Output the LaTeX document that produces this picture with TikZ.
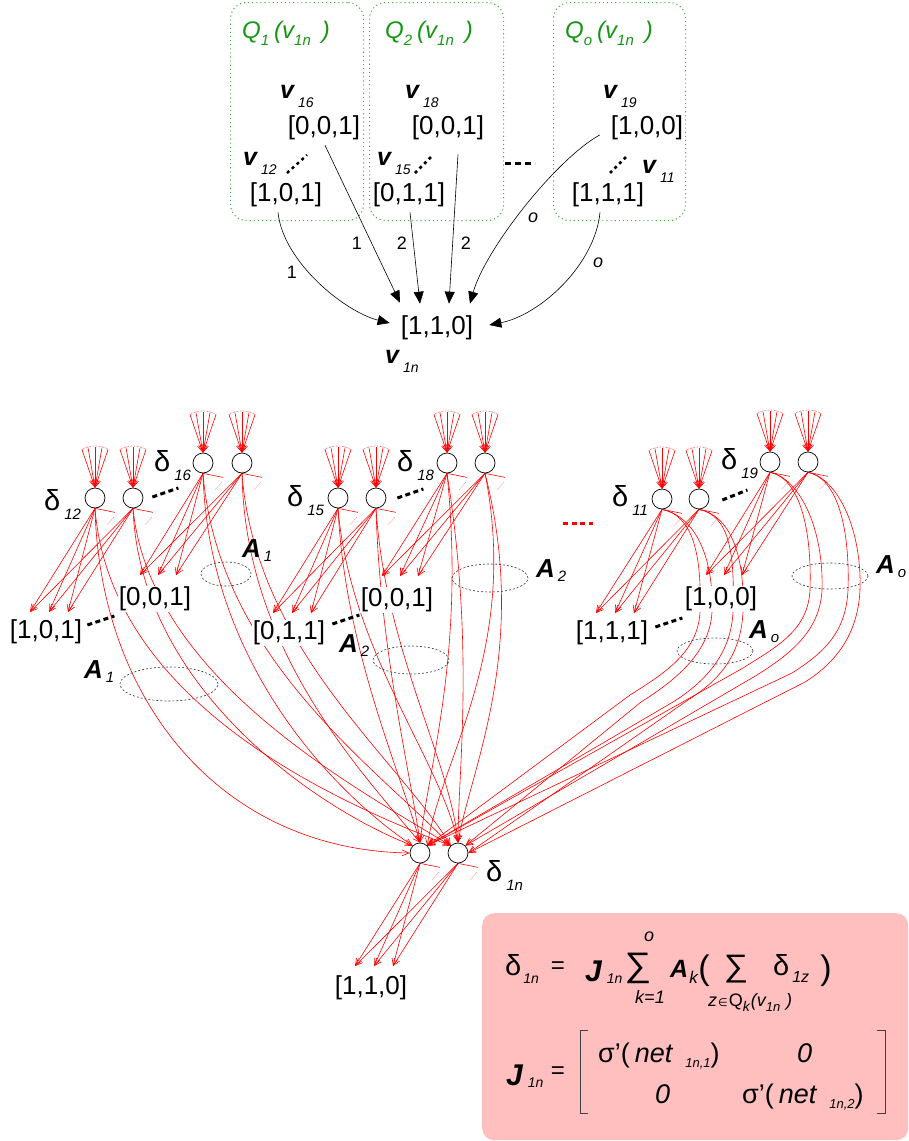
\documentclass[tikz,border=0pt]{standalone}
\usepackage{fontspec}
\setmainfont{Liberation Sans}
\newfontfamily\djv{DejaVu Sans}
\usetikzlibrary{arrows.meta,calc}
\pgfdeclarelayer{bg}
\pgfsetlayers{bg,main}
\definecolor{qgreen}{RGB}{20,150,20}
\definecolor{gdot}{RGB}{70,175,70}
\definecolor{boxpink}{RGB}{255,191,191}
\newcommand{\fs}[1]{\fontsize{#1}{#1}\selectfont}
\newcommand{\vlab}[1]{{\fs{25}\bfseries\itshape v}\hspace{4pt}\raisebox{-9pt}{\fs{14}\itshape #1}}
\newcommand{\dlab}[1]{{\fs{29}δ}\hspace{4pt}\raisebox{-9pt}{\fs{15}\itshape #1}}
\newcommand{\alab}[1]{{\fs{26}\bfseries\itshape A}\hspace{3pt}\raisebox{-4pt}{\fs{15}\itshape #1}}
\newcommand{\qlab}[1]{\fs{24}\itshape Q\raisebox{-7pt}{\fs{15}#1}\hspace{5pt}(v\raisebox{-7pt}{\fs{15}1n}\hspace{11pt})}
\newcommand{\infan}[1]{%
  \foreach \dx/\dy in {-13/-38,-7/-40,0/-41,7/-40,13/-38}
    \draw[redar] ($(#1.north)+(\dx,\dy)$) -- (#1.north);
  \draw[reddot] ($(#1.north)+(-13,-38)$) .. controls ($(#1.north)+(-6,-43)$) and ($(#1.north)+(6,-43)$) .. ($(#1.north)+(13,-38)$);
}
\newcommand{\stub}[1]{%
  \draw[redln] (#1.south) -- ($(#1.south)+(20,4)$);
  \draw[reddot] ($(#1.south)+(12,16)$) -- ($(#1.south)+(19,9)$);
}
\tikzset{
  txt/.style={inner sep=0pt, anchor=base west},
  vec/.style={font=\fs{26}, inner sep=1pt},
  vecw/.style={vec, fill=white},
  neuron/.style={circle, draw=black, line width=0.7pt, fill=white, minimum size=20pt, inner sep=0pt},
  redln/.style={draw=red, line width=0.6pt},
  redar/.style={redln, -{Straight Barb[length=7pt,width=6pt]}},
  reddot/.style={draw=red, line width=0.5pt, densely dotted},
  blkar/.style={draw=black, line width=0.6pt, -{Triangle[length=12pt,width=10pt]}},
  aell/.style={draw=black!80, line width=0.6pt, dash pattern=on 2pt off 2pt},
  elli/.style={line width=3pt, dash pattern=on 5pt off 3.5pt},
  tinydots/.style={line width=2.5pt, dash pattern=on 3pt off 3.5pt},
  qbox/.style={draw=gdot, line width=1.1pt, dash pattern=on 1.1pt off 3pt, rounded corners=16pt, inner sep=0pt},
  lbl/.style={font=\fs{18}, inner sep=0pt},
}
\begin{document}
\begin{tikzpicture}[x=1pt,y=-1pt]
\useasboundingbox (0,0) rectangle (909,1141);

% ---------------- top part ----------------
\node[qbox, minimum width=133pt, minimum height=218pt, anchor=north west] (box1) at (230,2) {};
\node[qbox, minimum width=134pt, minimum height=218pt, anchor=north west] (box2) at (369,2) {};
\node[qbox, minimum width=132pt, minimum height=218pt, anchor=north west] (box3) at (553,2) {};
\node[txt, text=qgreen] (q1) at (242,38) {\qlab{1}};
\node[txt, text=qgreen] (q2) at (385,38) {\qlab{2}};
\node[txt, text=qgreen] (qo) at (565,38) {\qlab{o}};

\node[txt] (lv16) at (280,98) {\vlab{16}};
\node[vec] (tv16) at (324,128) {[0,0,1]};
\node[txt] (lv12) at (243,165) {\vlab{12}};
\node[vec] (tv12) at (286,195) {[1,0,1]};
\node[txt] (lv18) at (405,98) {\vlab{18}};
\node[vec] (tv18) at (448,128) {[0,0,1]};
\node[txt] (lv15) at (377,165) {\vlab{15}};
\node[vec] (tv15) at (409,195) {[0,1,1]};
\node[txt] (lv19) at (603,98) {\vlab{19}};
\node[vec] (tv19) at (647,128) {[1,0,0]};
\node[txt] (lv11) at (642,173) {\vlab{11}};
\node[vec] (tv11) at (608,195) {[1,1,1]};
\node[vec] (tv1n) at (437,328) {[1,1,0]};
\node[txt] (lv1n) at (385,363) {\vlab{1n}};

\draw[tinydots] ($(tv12)+(1,-22)$) -- ($(tv12)+(21,-40)$);
\draw[tinydots] ($(tv15)+(6,-22)$) -- ($(tv15)+(24,-40)$);
\draw[tinydots] ($(tv11)+(2,-22)$) -- ($(tv11)+(20,-40)$);
\draw[elli, dash pattern=on 6pt off 4pt] (505,163) -- (535,163);

\draw[blkar] ($(tv12.south)+(-8,4)$) .. controls (283,262) and (345,312) .. ($(tv1n.west)+(-10,-5)$);
\draw[blkar] ($(tv16.south)+(1,4)$) -- ($(tv1n.north)+(-37,-12)$);
\draw[blkar] ($(tv15.south)+(1,4)$) -- ($(tv1n.north)+(-17,-11)$);
\draw[blkar] ($(tv18.south)+(10,13)$) -- ($(tv1n.north)+(12,-11)$);
\draw[blkar] ($(tv19.west)+(-10,7)$) .. controls (555,160) and (485,250) .. ($(tv1n.north)+(33,-11)$);
\draw[blkar] ($(tv11.south)+(-8,4)$) .. controls (595,265) and (540,315) .. ($(tv1n.east)+(15,-3)$);
\node[lbl] (w1) at (292,272) {1};
\node[lbl] (w2) at (357,243) {1};
\node[lbl] (w3) at (402,243) {2};
\node[lbl] (w4) at (466,243) {2};
\node[lbl, font=\fs{18}\itshape] (w5) at (533,218) {o};
\node[lbl, font=\fs{18}\itshape] (w6) at (598,263) {o};

% ---------------- network ----------------
\node[neuron] (n12a) at (95,498) {};
\node[neuron] (n12b) at (133,498) {};
\node[neuron] (n16a) at (203,463) {};
\node[neuron] (n16b) at (242,463) {};
\node[neuron] (n15a) at (338,498) {};
\node[neuron] (n15b) at (376,498) {};
\node[neuron] (n18a) at (447,463) {};
\node[neuron] (n18b) at (485,463) {};
\node[neuron] (n11a) at (662,499) {};
\node[neuron] (n11b) at (699,499) {};
\node[neuron] (n19a) at (770,462) {};
\node[neuron] (n19b) at (808,462) {};
\node[neuron] (d1) at (420,853) {};
\node[neuron] (d2) at (458,853) {};

\node[vecw] (t101) at (46,632) {[1,0,1]};
\node[vecw] (t001a) at (155,599) {[0,0,1]};
\node[vecw] (t011) at (289,633) {[0,1,1]};
\node[vecw] (t001b) at (397,600) {[0,0,1]};
\node[vecw] (t111) at (612,633) {[1,1,1]};
\node[vecw] (t100) at (721,599) {[1,0,0]};
\node[vecw] (t110) at (371,988) {[1,1,0]};

\node[txt] (ld12) at (44,510) {\dlab{12}};
\node[txt] (ld16) at (154,471) {\dlab{16}};
\node[txt] (ld15) at (287,506) {\dlab{15}};
\node[txt] (ld18) at (397,471) {\dlab{18}};
\node[txt] (ld11) at (612,506) {\dlab{11}};
\node[txt] (ld19) at (721,469) {\dlab{19}};
\node[txt] (ld1n) at (486,881) {\dlab{1n}};

\node[txt] (la1u) at (242,557) {\alab{1}};
\node[txt] (la1l) at (84,678) {\alab{1}};
\node[txt] (la2u) at (536,577) {\alab{2}};
\node[txt] (la2l) at (339,652) {\alab{2}};
\node[txt] (laou) at (876,573) {\alab{o}};
\node[txt] (laol) at (749,638) {\alab{o}};

\draw[aell] (226,574) ellipse [x radius=25pt, y radius=12pt];
\draw[aell] (169,684) ellipse [x radius=49pt, y radius=17pt];
\draw[aell] (490,578) ellipse [x radius=38pt, y radius=14pt];
\draw[aell] (411,660) ellipse [x radius=38pt, y radius=14pt];
\draw[aell] (830,576) ellipse [x radius=38pt, y radius=13pt];
\draw[aell] (715,651) ellipse [x radius=38pt, y radius=13pt];

\draw[elli] ($(n12b.east)+(9,-1)$) -- ($(n12b.east)+(35,-10)$);
\draw[elli] ($(n15b.east)+(11,0)$) -- ($(n15b.east)+(37,-9)$);
\draw[elli] ($(n11b.east)+(13,1)$) -- ($(n11b.east)+(38,-9)$);
\draw[elli] ($(t101.east)+(4,-7)$) -- ($(t101.east)+(31,-16)$);
\draw[elli] ($(t011.east)+(6,-9)$) -- ($(t011.east)+(33,-18)$);
\draw[elli] ($(t111.east)+(6,-6)$) -- ($(t111.east)+(33,-15)$);
\draw[elli, red] (563,523) -- (593,523);

% ---------------- formula ----------------
\node[fill=boxpink, rounded corners=12pt, minimum width=426pt, minimum height=227pt, anchor=north west, inner sep=0pt] (fbox) at (482,913) {};
\node[txt] (f1) at (505,975) {{\fs{29}δ}\hspace{2pt}\raisebox{-8pt}{\fs{14}\itshape 1n}};
\node[inner sep=0pt, font=\fs{24}] (f2) at (558,968) {=};
\node[txt] (f3) at (585,981) {{\fs{30}\bfseries\itshape J}\hspace{5pt}\raisebox{-2pt}{\fs{14}\itshape 1n}};
\node[inner sep=0pt, font=\fs{34}] (f4) at (638,968) {\scalebox{1.1}[1]{∑}};
\node[inner sep=0pt, font=\fs{18}\itshape] (f4o) at (649,937) {o};
\node[inner sep=0pt, font=\fs{18}\itshape] (f4k) at (650,997) {k=1};
\node[txt] (f5) at (670,977) {{\fs{25}\bfseries\itshape A}\hspace{1pt}\raisebox{-6pt}{\fs{17}\itshape k}};
\node[inner sep=0pt, font=\fs{34}] (f6) at (704,971) {(};
\node[inner sep=0pt, font=\fs{31}] (f7) at (736,969) {\scalebox{1.1}[1]{∑}};
\node[txt] (f8) at (773,975) {{\fs{29}δ}\hspace{3pt}\raisebox{-7pt}{\fs{16}\itshape 1z}};
\node[inner sep=0pt, font=\fs{34}] (f9) at (826,971) {)};
\node[txt] (f10) at (708,1006) {\fs{18}\itshape z\hspace{1pt}{\djv\upshape\fs{11}∈}\hspace{1pt}{\upshape Q}\raisebox{-5pt}{\fs{14}k}\hspace{1pt}(v\raisebox{-5pt}{\fs{13}1n}\hspace{6pt})};

\node[txt] (m1) at (506,1085) {{\fs{30}\bfseries\itshape J}\hspace{5pt}\raisebox{-2pt}{\fs{14}\itshape 1n}};
\node[inner sep=0pt, font=\fs{24}] (m2) at (558,1073) {=};
\draw[line width=1pt, black!75] (588,1030) -- (580,1030) -- (580,1113) -- (588,1113);
\draw[line width=1pt, black!75] (877,1030) -- (885,1030) -- (885,1113) -- (877,1113);
\node[txt] (r1a) at (598,1062) {\fs{27}σ’(\hspace{5pt}\textit{net}\hspace{12pt}\raisebox{-5pt}{\fs{13}\itshape 1n,1})};
\node[txt] (r1b) at (797,1062) {\fs{27}\itshape 0};
\node[txt] (r2a) at (655,1103) {\fs{27}\itshape 0};
\node[txt] (r2b) at (742,1103) {\fs{27}σ’(\hspace{5pt}\textit{net}\hspace{12pt}\raisebox{-5pt}{\fs{13}\itshape 1n,2})};

% ---------------- red connections (background) ----------------
\begin{pgfonlayer}{bg}
\foreach \n in {n12a,n12b,n16a,n16b,n15a,n15b,n18a,n18b,n11a,n11b,n19a,n19b} {\infan{\n}}
\foreach \n in {n12a,n12b,n16a,n16b,n15a,n15b,n18a,n18b,n11a,n11b,n19a,n19b,d1,d2} {\stub{\n}}
\foreach \n/\t in {n12a/t101,n12b/t101,n15a/t011,n15b/t011,n11a/t111,n11b/t111}
  \foreach \o in {-16,3,22} \draw[redar] (\n.south) -- ($(\t)+(\o,-20)$);
\foreach \n/\t in {n16a/t001a,n16b/t001a,n18a/t001b,n18b/t001b,n19a/t100,n19b/t100}
  \foreach \o in {-15,3,21} \draw[redar] (\n.south) -- ($(\t)+(\o,-24)$);
\foreach \n in {d1,d2}
  \foreach \o in {-16,3,22} \draw[redar] (\n.south) -- ($(t110)+(\o,-22)$);
\foreach \s/\ax/\ay/\bx/\by/\e in {
  n12a/100/700/220/850/d1.west,
  n12a/110/700/330/800/d2.north west,
  n12b/140/690/320/810/d1.north west,
  n12b/150/680/360/790/d2.north west,
  n16a/208/660/330/790/d1.north west,
  n16a/218/660/380/770/d2.north west,
  n16b/245/650/360/770/d1.north,
  n16b/255/650/400/760/d2.north west,
  n15a/345/650/400/770/d1.north,
  n15a/350/650/440/760/d2.north,
  n15b/380/650/410/770/d1.north,
  n15b/385/650/450/760/d2.north,
  n18a/465/650/430/760/d1.north,
  n18a/475/650/458/770/d2.north,
  n18b/520/650/440/760/d1.north east,
  n18b/530/650/470/770/d2.north}
  \draw[redar] (\s.south) .. controls (\ax,\ay) and (\bx,\by) .. (\e);
\foreach \s/\mx/\my/\kx/\ky/\e in {
  n11a/700/612/630/695/d1.north east,
  n11a/712/612/641/702/d2.north east,
  n11b/733/612/673/702/d1.north east,
  n11b/743/612/688/700/d2.east,
  n19a/810/590/743/668/d1.north east,
  n19a/822/590/757/675/d2.north east,
  n19b/848/590/792/673/d1.north east,
  n19b/860/590/805/682/d2.east}
  \draw[redar] (\s.south) .. controls ($(\s.south)+(30,6)$) and ({\mx+2},{\my-60}) .. (\mx,\my)
     .. controls ({\mx-2},{\my+40}) and ({\kx+35},{\ky-22}) .. (\kx,\ky) -- (\e);
\end{pgfonlayer}
\end{tikzpicture}
\end{document}
